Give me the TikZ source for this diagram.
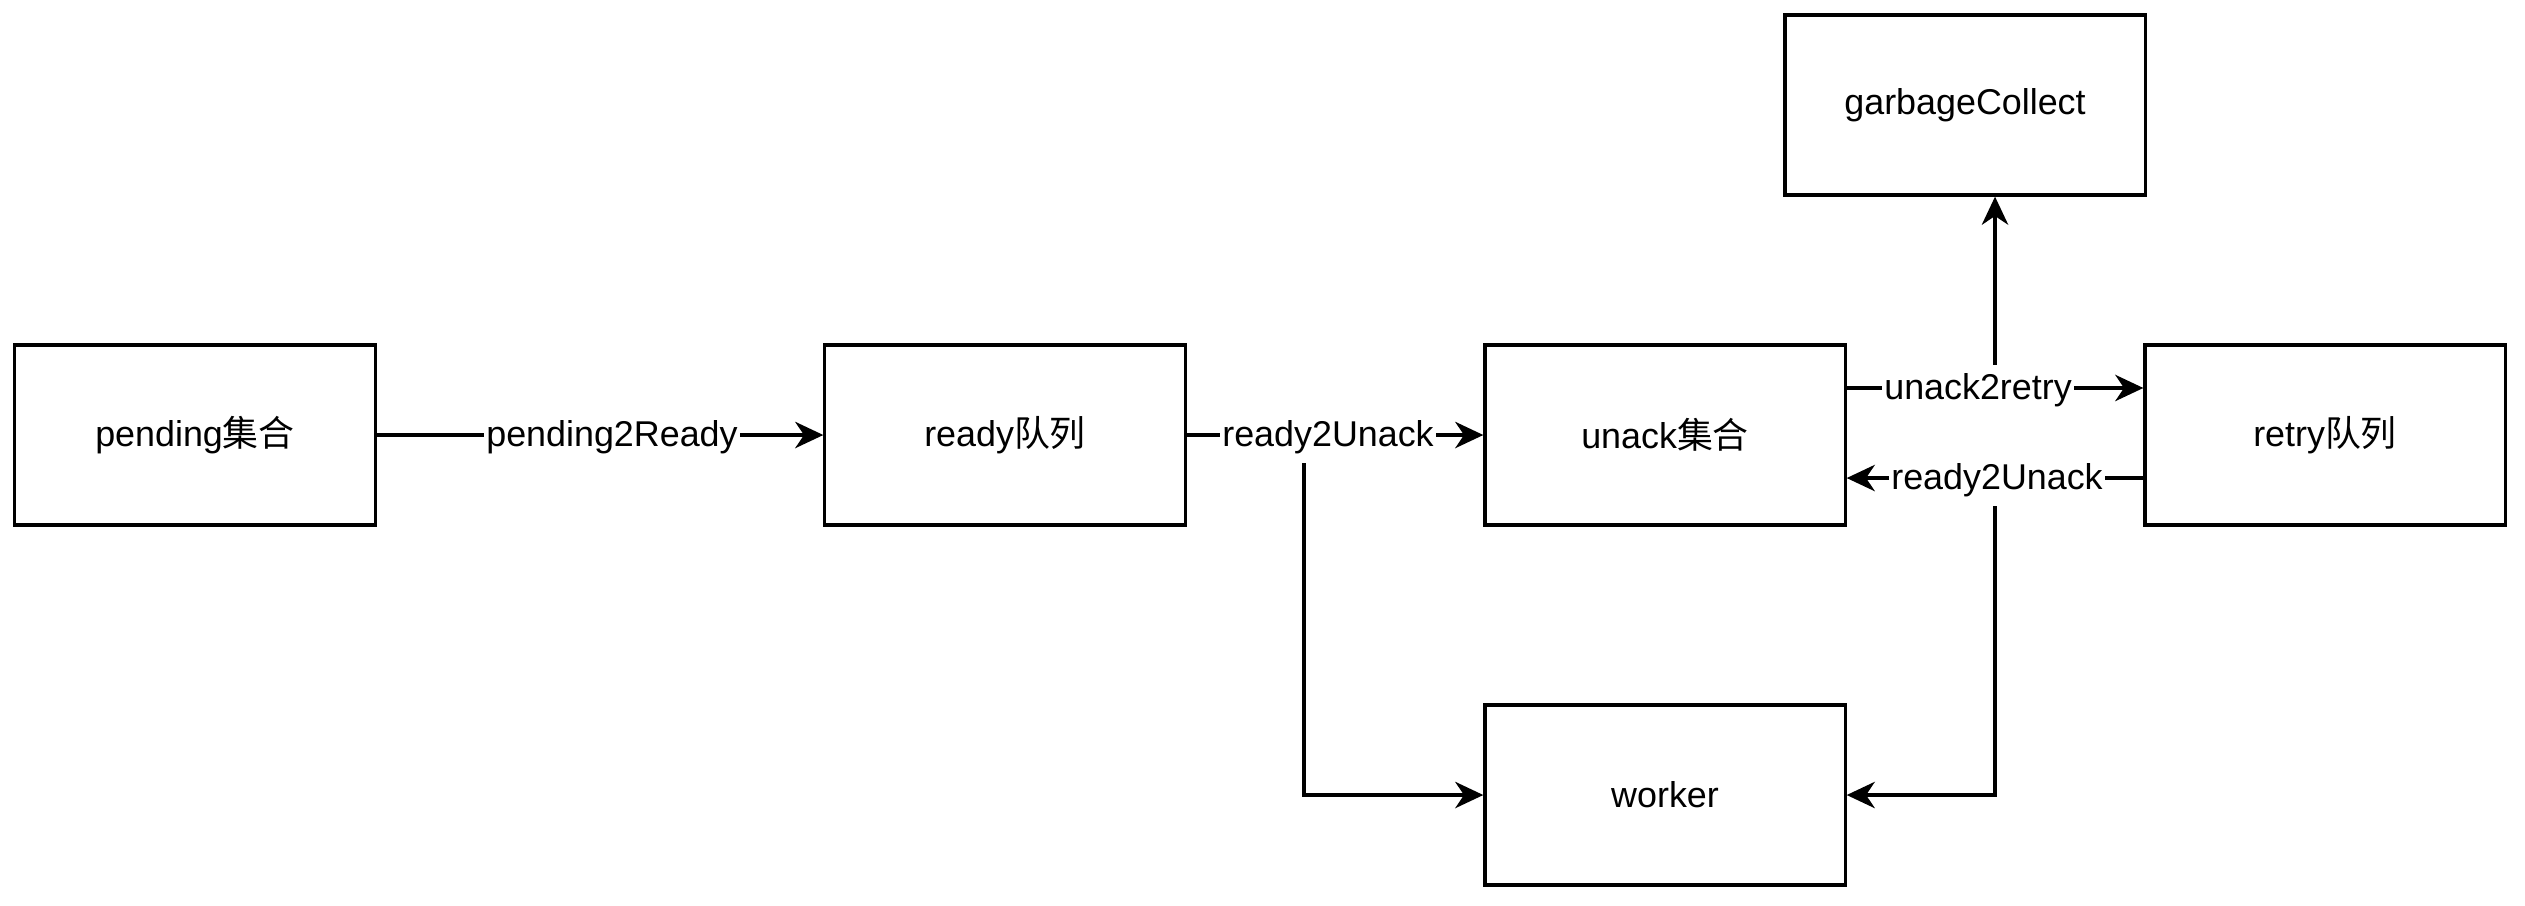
\documentclass[tikz,border=0pt]{standalone}
\usepackage{fontspec}
\setmainfont{Liberation Sans}
\newfontfamily\cjk{Noto Sans CJK SC}
\usetikzlibrary{arrows.meta}
\begin{document}
\begin{tikzpicture}[x=0.01cm,y=-0.01cm,
  box/.style={draw, line width=0.9pt, minimum width=3.6cm, minimum height=1.8cm, inner sep=0pt, font=\fontsize{10.2}{12}\selectfont},
  conn/.style={line width=0.9pt, -{Stealth[length=8pt,width=7.5pt,inset=2.5pt]}},
  lbl/.style={fill=white, inner xsep=0.6pt, inner ysep=2.5pt, font=\fontsize{10.2}{12}\selectfont}]
\useasboundingbox (0,0) rectangle (2525,905);
\node[box] (pending) at (195,435) {pending{\cjk 集合}};
\node[box] (ready) at (1005,435) {ready{\cjk 队列}};
\node[box] (unack) at (1665,435) {unack{\cjk 集合}};
\node[box] (retry) at (2325,435) {retry{\cjk 队列}};
\node[box] (garbage) at (1965,105) {garbageCollect};
\node[box] (worker) at (1665,795) {worker};
\coordinate (j1) at (1304,435);
\coordinate (j2) at (1995,388);
\coordinate (j3) at (1995,478);
\draw[conn] (pending) -- (ready);
\draw[conn] (ready) -- (unack);
\draw[conn] (ready.east) -- (j1) |- (worker.west);
\draw[conn] ([yshift=0.47cm]unack.east) -- ([yshift=0.47cm]retry.west);
\draw[conn] (j2) -- (j2 |- garbage.south);
\draw[conn] ([yshift=-0.43cm]retry.west) -- ([yshift=-0.43cm]unack.east);
\draw[conn] (j3) |- (worker.east);
\node[lbl] (l1) at (612,437) {pending2Ready};
\node[lbl] (l2) at (1328,437) {ready2Unack};
\node[lbl] (l3) at (1978,390) {unack2retry};
\node[lbl] (l4) at (1997,480) {ready2Unack};
\end{tikzpicture}
\end{document}
